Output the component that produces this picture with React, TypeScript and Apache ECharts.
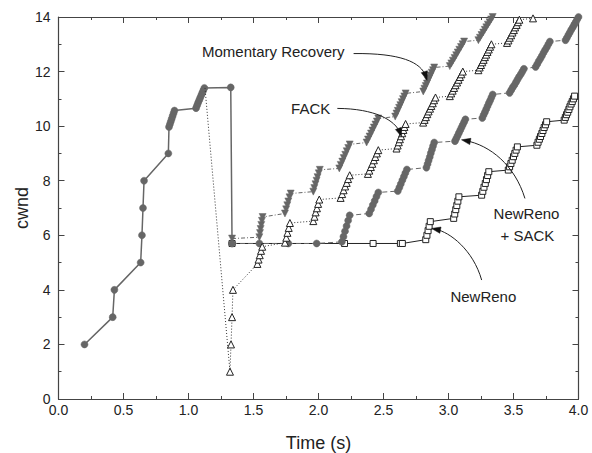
import React, { useEffect, useRef } from "react";
import * as echarts from "echarts";

// ---- axes ----
const xMin = 0, xMax = 4, xStep = 0.5;
const yMin = 0, yMax = 14, yStep = 2;
const xTitle = "Time (s)";
const yTitle = "cwnd";

// ---- shared start (slow start + congestion avoidance + timeout drop) ----
const commonPts: number[][] = [
  [0.200, 2], [0.417, 3], [0.430, 4], [0.632, 5], [0.642, 6], [0.650, 7], [0.658, 8], [0.845, 9],
  [0.850, 9.97], [0.857, 10.07], [0.864, 10.17], [0.871, 10.27], [0.878, 10.37], [0.885, 10.47], [0.892, 10.57],
  [1.058, 10.66], [1.066, 10.76], [1.074, 10.86], [1.082, 10.95], [1.090, 11.04], [1.098, 11.13], [1.106, 11.22], [1.114, 11.31], [1.122, 11.40],
  [1.325, 11.42], [1.335, 5.70],
];

// ---- Momentary Recovery ----
const mrPts: number[][] = [
  [1.335, 5.88],
  [1.545, 5.93], [1.550, 6.08], [1.555, 6.23], [1.560, 6.38], [1.565, 6.53], [1.570, 6.67],
  [1.742, 6.80], [1.751, 6.95], [1.760, 7.10], [1.768, 7.24], [1.777, 7.39], [1.786, 7.53],
  [1.960, 7.60], [1.968, 7.73], [1.977, 7.87], [1.985, 8.00], [1.993, 8.13], [2.002, 8.27], [2.010, 8.40],
  [2.160, 8.45], [2.171, 8.58], [2.183, 8.70], [2.194, 8.83], [2.206, 8.95], [2.217, 9.08], [2.229, 9.20], [2.240, 9.33],
  [2.370, 9.40], [2.381, 9.51], [2.393, 9.62], [2.404, 9.73], [2.415, 9.84], [2.426, 9.95], [2.438, 10.06], [2.449, 10.17], [2.460, 10.28],
  [2.590, 10.35], [2.600, 10.46], [2.610, 10.56], [2.620, 10.67], [2.630, 10.77], [2.640, 10.88], [2.650, 10.99], [2.660, 11.09], [2.670, 11.20],
  [2.806, 11.27], [2.815, 11.37], [2.825, 11.47], [2.834, 11.56], [2.843, 11.66], [2.853, 11.76], [2.862, 11.86], [2.871, 11.96], [2.881, 12.05], [2.890, 12.15],
  [3.010, 12.20], [3.022, 12.30], [3.034, 12.40], [3.047, 12.50], [3.059, 12.60], [3.071, 12.70], [3.083, 12.80], [3.096, 12.90], [3.108, 13.00], [3.120, 13.10],
  [3.230, 13.15], [3.242, 13.24], [3.254, 13.34], [3.267, 13.43], [3.279, 13.53], [3.291, 13.62], [3.303, 13.72], [3.316, 13.81], [3.328, 13.91], [3.340, 14.00],
];

// ---- FACK ----
const fackPts: number[][] = [
  [1.127, 11.40], [1.319, 1.0], [1.327, 2.0], [1.335, 3.0], [1.342, 4.0],
  [1.530, 4.95], [1.539, 5.11], [1.548, 5.27], [1.558, 5.43], [1.567, 5.58],
  [1.742, 5.73], [1.752, 5.91], [1.761, 6.09], [1.771, 6.27], [1.780, 6.45],
  [1.960, 6.52], [1.969, 6.68], [1.978, 6.84], [1.988, 6.99], [1.997, 7.15], [2.006, 7.31],
  [2.170, 7.37], [2.182, 7.51], [2.193, 7.65], [2.205, 7.79], [2.217, 7.92], [2.228, 8.06], [2.240, 8.20],
  [2.380, 8.25], [2.391, 8.37], [2.403, 8.50], [2.414, 8.62], [2.426, 8.75], [2.437, 8.87], [2.449, 9.00], [2.460, 9.12],
  [2.600, 9.18], [2.609, 9.29], [2.618, 9.41], [2.626, 9.52], [2.635, 9.63], [2.644, 9.74], [2.653, 9.86], [2.661, 9.97], [2.670, 10.08],
  [2.805, 10.13], [2.816, 10.23], [2.826, 10.33], [2.837, 10.44], [2.847, 10.54], [2.858, 10.64], [2.868, 10.74], [2.879, 10.84], [2.889, 10.95], [2.900, 11.05],
  [3.010, 11.10], [3.021, 11.20], [3.032, 11.30], [3.043, 11.40], [3.054, 11.50], [3.066, 11.60], [3.077, 11.70], [3.088, 11.80], [3.099, 11.90], [3.110, 12.00],
  [3.230, 12.05], [3.240, 12.15], [3.250, 12.24], [3.260, 12.34], [3.270, 12.43], [3.280, 12.53], [3.290, 12.62], [3.300, 12.72], [3.310, 12.81], [3.320, 12.91], [3.330, 13.00],
  [3.450, 13.05], [3.461, 13.14], [3.471, 13.24], [3.482, 13.33], [3.492, 13.43], [3.503, 13.52], [3.513, 13.62], [3.524, 13.71], [3.534, 13.81], [3.545, 13.90],
  [3.650, 13.95], [3.663, 14.04], [3.677, 14.13],
];

// ---- NewReno + SACK ----
const sackPts: number[][] = [
  [1.335, 5.70], [1.545, 5.70], [1.768, 5.70], [1.986, 5.70],
  [2.180, 5.76], [2.192, 5.95], [2.204, 6.15], [2.216, 6.34], [2.228, 6.54], [2.240, 6.73],
  [2.390, 6.80], [2.404, 6.95], [2.418, 7.11], [2.432, 7.26], [2.446, 7.42], [2.460, 7.57],
  [2.610, 7.62], [2.622, 7.75], [2.633, 7.88], [2.645, 8.02], [2.657, 8.15], [2.668, 8.28], [2.680, 8.41],
  [2.830, 8.48], [2.839, 8.61], [2.847, 8.74], [2.856, 8.87], [2.864, 9.01], [2.873, 9.14], [2.881, 9.27], [2.890, 9.40],
  [3.050, 9.45], [3.060, 9.55], [3.070, 9.65], [3.080, 9.75], [3.090, 9.85], [3.100, 9.95], [3.110, 10.05], [3.120, 10.15], [3.130, 10.25],
  [3.260, 10.30], [3.270, 10.41], [3.280, 10.51], [3.290, 10.62], [3.300, 10.73], [3.310, 10.84], [3.320, 10.94], [3.330, 11.05], [3.340, 11.16],
  [3.470, 11.22], [3.482, 11.32], [3.494, 11.42], [3.507, 11.51], [3.519, 11.61], [3.531, 11.71], [3.543, 11.81], [3.556, 11.90], [3.568, 12.00], [3.580, 12.10],
  [3.670, 12.17], [3.682, 12.27], [3.694, 12.38], [3.707, 12.48], [3.719, 12.58], [3.731, 12.69], [3.743, 12.79], [3.756, 12.89], [3.768, 13.00], [3.780, 13.10],
  [3.900, 13.15], [3.911, 13.24], [3.922, 13.34], [3.933, 13.43], [3.944, 13.53], [3.956, 13.62], [3.967, 13.72], [3.978, 13.81], [3.989, 13.91], [4.000, 14.00],
];

// ---- NewReno ----
const nrPts: number[][] = [
  [1.335, 5.70], [2.200, 5.70], [2.420, 5.70], [2.630, 5.70], [2.645, 5.70],
  [2.825, 5.84], [2.834, 6.00], [2.843, 6.17], [2.851, 6.33], [2.860, 6.50],
  [3.040, 6.62], [3.048, 6.78], [3.056, 6.94], [3.064, 7.09], [3.072, 7.25], [3.080, 7.41],
  [3.255, 7.47], [3.264, 7.61], [3.273, 7.76], [3.283, 7.90], [3.292, 8.04], [3.301, 8.19], [3.310, 8.33],
  [3.460, 8.39], [3.470, 8.51], [3.480, 8.63], [3.490, 8.75], [3.500, 8.88], [3.510, 9.00], [3.520, 9.12], [3.530, 9.24],
  [3.680, 9.30], [3.689, 9.41], [3.699, 9.52], [3.708, 9.62], [3.718, 9.73], [3.727, 9.84], [3.736, 9.95], [3.746, 10.05], [3.755, 10.16],
  [3.890, 10.22], [3.899, 10.32], [3.908, 10.42], [3.917, 10.51], [3.926, 10.61], [3.934, 10.71], [3.943, 10.81], [3.952, 10.90], [3.961, 11.00], [3.970, 11.10],
];

// ---- annotations (data-space anchors) ----
const annLabels = ["Momentary Recovery", "FACK", "NewReno", "+ SACK", "NewReno"];
const annLabelPos: number[][] = [[1.652, 12.72], [1.94, 10.65], [3.60, 6.80], [3.607, 6.00], [3.268, 3.75]];
const annArrows: number[][][] = [
  // [start, ctrl1, ctrl2, end]
  [[2.27, 12.66], [2.63, 12.68], [2.79, 12.35], [2.835, 11.68]],
  [[2.145, 10.65], [2.435, 10.64], [2.59, 10.22], [2.64, 9.61]],
  [[3.588, 7.35], [3.51, 8.57], [3.32, 9.30], [3.10, 9.50]],
  [[3.255, 4.36], [3.19, 5.46], [3.01, 6.12], [2.87, 6.25]],
];

const FONT = '"Liberation Sans", Arial, Helvetica, sans-serif';
const GRAY = "#666666";

export default function App() {
  const ref = useRef<HTMLDivElement>(null);
  useEffect(() => {
    if (!ref.current) return;
    const chart = echarts.init(ref.current, undefined, { renderer: "svg" });
    const axisCommon = {
      type: "value" as const,
      axisLine: { show: true, onZero: false, lineStyle: { color: "#444", width: 1.2 } },
      axisTick: { show: true, inside: true, length: 6, lineStyle: { color: "#444", width: 1 } },
      minorTick: { show: true, splitNumber: 2, length: 3, lineStyle: { color: "#444", width: 1 } },
      splitLine: { show: false },
    };
    const xA = { ...axisCommon, min: xMin, max: xMax, interval: xStep };
    const yA = { ...axisCommon, min: yMin, max: yMax, interval: yStep };
    const base = {
      type: "line" as const,
      showAllSymbol: true,
      silent: true,
      clip: true,
      animation: false,
      emphasis: { disabled: true },
    };
    // FACK branches off the shared curve: its first point carries no marker
    const fackData = fackPts.map((p, i) => (i === 0 ? { value: p, symbol: "none" } : p));
    chart.setOption({
      animation: false,
      backgroundColor: "#fff",
      textStyle: { fontFamily: FONT },
      grid: { left: 58.5, right: 13.5, top: 17, bottom: 54, containLabel: false, outerBoundsMode: "none" },
      xAxis: [
        {
          ...xA,
          position: "bottom",
          name: xTitle,
          nameLocation: "middle",
          nameGap: 35,
          nameMoveOverlap: false,
          nameTextStyle: { fontSize: 18, color: "#222", fontFamily: FONT },
          axisLabel: { show: true, margin: 4, fontSize: 14, color: "#222", fontFamily: FONT, formatter: (v: number) => v.toFixed(1) },
        },
        { ...xA, position: "top", axisLabel: { show: false } },
      ],
      yAxis: [
        {
          ...yA,
          position: "left",
          name: yTitle,
          nameLocation: "middle",
          nameGap: 28,
          nameMoveOverlap: false,
          nameTextStyle: { fontSize: 18, color: "#222", fontFamily: FONT },
          axisLabel: { show: true, margin: 8, fontSize: 14, color: "#222", fontFamily: FONT },
        },
        { ...yA, position: "right", axisLabel: { show: false } },
      ],
      series: [
        {
          ...base, name: "common", data: commonPts, z: 2,
          symbol: "circle", symbolSize: 7,
          lineStyle: { color: GRAY, width: 1.5, type: "solid" },
          itemStyle: { color: GRAY, borderColor: GRAY, borderWidth: 0.5 },
        },
        {
          ...base, name: "NewReno", data: nrPts, z: 3,
          symbol: "rect", symbolSize: 6,
          lineStyle: { color: "#222", width: 1, type: "solid" },
          itemStyle: { color: "#fff", borderColor: "#222", borderWidth: 1 },
        },
        {
          ...base, name: "NewReno + SACK", data: sackPts, z: 4,
          symbol: "circle", symbolSize: 7,
          lineStyle: { color: GRAY, width: 1, type: [5, 3] },
          itemStyle: { color: GRAY, borderColor: GRAY, borderWidth: 0.5 },
        },
        {
          ...base, name: "FACK", data: fackData, z: 5,
          symbol: "triangle", symbolSize: 7,
          lineStyle: { color: "#333", width: 1, type: [1, 2] },
          itemStyle: { color: "#fff", borderColor: "#222", borderWidth: 1 },
        },
        {
          ...base, name: "Momentary Recovery", data: mrPts, z: 6,
          symbol: "triangle", symbolRotate: 180, symbolSize: 7,
          lineStyle: { color: GRAY, width: 1, type: [4, 2, 1, 2] },
          itemStyle: { color: GRAY, borderColor: GRAY, borderWidth: 0.5 },
        },
      ],
    });

    const P = (p: number[]) => chart.convertToPixel({ seriesIndex: 0 }, p) as number[];
    const graphics: any[] = [];
    annLabels.forEach((t, i) => {
      const [x, y] = P(annLabelPos[i]);
      graphics.push({
        type: "text", x, y, z: 100, silent: true,
        style: { text: t, font: `15px ${FONT}`, fill: "#222", align: "center", verticalAlign: "middle", textAlign: "center", textVerticalAlign: "middle" },
      });
    });
    annArrows.forEach((a) => {
      const [s, c1, c2, e] = a.map(P);
      let dx = e[0] - c2[0], dy = e[1] - c2[1];
      const len = Math.hypot(dx, dy) || 1;
      dx /= len; dy /= len;
      const L = 9, W = 3.2;
      const bx = e[0] - dx * L, by = e[1] - dy * L;
      graphics.push({
        type: "bezierCurve", z: 100, silent: true,
        shape: { x1: s[0], y1: s[1], cpx1: c1[0], cpy1: c1[1], cpx2: c2[0], cpy2: c2[1], x2: e[0] - dx * 4, y2: e[1] - dy * 4 },
        style: { stroke: "#222", lineWidth: 1, fill: null },
      });
      graphics.push({
        type: "polygon", z: 101, silent: true,
        shape: { points: [[e[0], e[1]], [bx - dy * W, by + dx * W], [bx + dy * W, by - dx * W]] },
        style: { fill: "#111", stroke: "#111", lineWidth: 0.5 },
      });
    });
    chart.setOption({ graphic: graphics });

    return () => chart.dispose();
  }, []);
  return (
    <div
      ref={ref}
      style={{ position: "fixed", left: 0, top: 0, width: 592, height: 453, background: "#fff" }}
    />
  );
}
